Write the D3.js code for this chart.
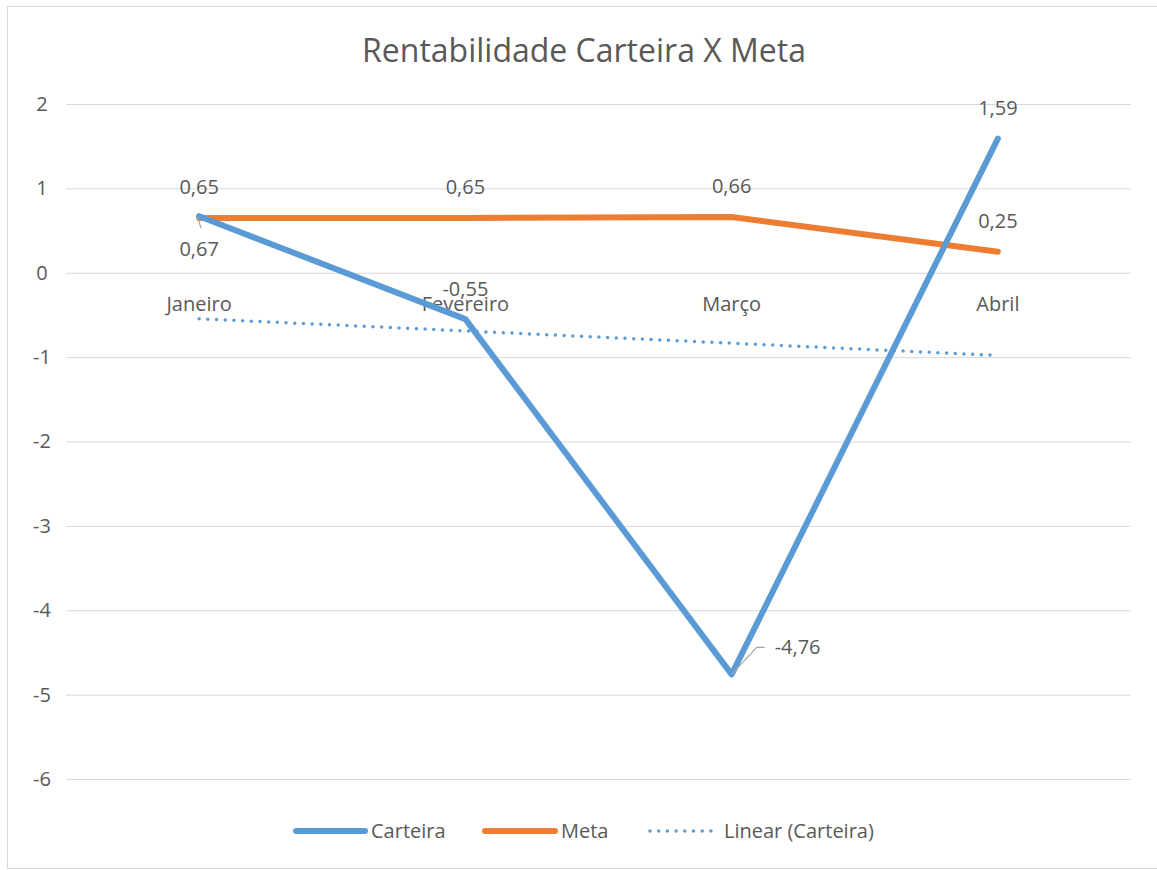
<!DOCTYPE html>
<html>
<head>
<meta charset="utf-8">
<script src="https://cdn.jsdelivr.net/npm/d3@7"></script>
<style>
  body { margin: 0; background: #fff; }
  text { font-family: "Open Sans", "Lato", sans-serif; fill: #595959; }
</style>
</head>
<body>
<div id="chart"></div>
<script>
// data
const months = ["Janeiro", "Fevereiro", "Março", "Abril"];
const carteira = [0.67, -0.55, -4.76, 1.59];
const meta = [0.65, 0.65, 0.66, 0.25];
const yTicks = [2, 1, 0, -1, -2, -3, -4, -5, -6];

const w = 1157;
const h = 870;
const fs = "20px";
const fmt = (v) => String(v.toFixed(2)).replace(".", ",");

// linear trend of Carteira (least squares, like Excel's "Linear" trendline)
const xs = carteira.map((d, i) => i + 1);
const mx = d3.mean(xs), my = d3.mean(carteira);
const slope = d3.sum(xs, (x, i) => (x - mx) * (carteira[i] - my)) / d3.sum(xs, (x) => (x - mx) ** 2);
const trend = xs.map((x) => my + slope * (x - mx));

const svg = d3.select("#chart").append("svg")
      .attr("width", w)
      .attr("height", h);

// outer frame
svg.append("rect")
      .attr("x", 7.5).attr("y", 6.5)
      .attr("width", 1160).attr("height", 862)
      .attr("fill", "#fff")
      .attr("stroke", "#d9d9d9")
      .attr("stroke-width", 1);

const x = d3.scaleBand().domain(months).range([66, 1131]);
const y = d3.scaleLinear().domain([-6, 2]).range([779, 104]);
const cx = (m) => x(m) + x.bandwidth() / 2;

//title
svg.append("text")
      .attr("x", 584).attr("y", 62)
      .attr("text-anchor", "middle")
      .style("font-size", "32px")
      .text("Rentabilidade Carteira X Meta");

//gridlines + y axis
const yAxis = svg.append("g")
      .attr("transform", "translate(66,0)")
      .call(d3.axisLeft(y).tickValues(yTicks).tickSize(-(1131 - 66)).tickPadding(18).tickFormat((d) => d));
yAxis.select(".domain").remove();
yAxis.selectAll("line").attr("stroke", "#d9d9d9").attr("stroke-width", 1);
yAxis.selectAll("text")
      .attr("fill", "#595959")
      .style("font-size", fs)
      .attr("text-anchor", "middle")
      .attr("x", -24);

//category labels sit just under the zero line
svg.selectAll(".xlab")
      .data(months)
      .enter()
      .append("text")
      .attr("class", "xlab")
      .attr("x", (d) => cx(d))
      .attr("y", y(0) + 38)
      .attr("text-anchor", "middle")
      .style("font-size", fs)
      .text((d) => d);

const line = d3.line()
      .x((d, i) => cx(months[i]))
      .y((d) => y(d));

//trendline
svg.append("path")
      .datum(trend)
      .attr("d", line)
      .attr("fill", "none")
      .attr("stroke", "#5b9bd5")
      .attr("stroke-width", 3.5)
      .attr("stroke-linecap", "round")
      .attr("stroke-dasharray", "0 8.7");

svg.append("path")
      .datum(meta)
      .attr("d", line)
      .attr("fill", "none")
      .attr("stroke", "#ed7d31")
      .attr("stroke-width", 6)
      .attr("stroke-linecap", "round")
      .attr("stroke-linejoin", "round");

svg.append("path")
      .datum(carteira)
      .attr("d", line)
      .attr("fill", "none")
      .attr("stroke", "#5b9bd5")
      .attr("stroke-width", 6)
      .attr("stroke-linecap", "round")
      .attr("stroke-linejoin", "round");

//data labels (offsets follow where Excel put them)
const metaOffsets = [[0, -24], [0, -24], [0, -24], [0, -24]];
const cartOffsets = [[0, 40], [0, -23], null, [0, -24]];

svg.selectAll(".metaLab")
      .data(meta)
      .enter()
      .append("text")
      .attr("class", "metaLab")
      .attr("x", (d, i) => cx(months[i]) + metaOffsets[i][0])
      .attr("y", (d, i) => y(d) + metaOffsets[i][1])
      .attr("text-anchor", "middle")
      .style("font-size", fs)
      .text((d) => fmt(d));

const cartLabels = carteira.map((v, i) => ({ v, i })).filter((d) => cartOffsets[d.i]);
svg.selectAll(".cartLab")
      .data(cartLabels)
      .enter()
      .append("text")
      .attr("class", "cartLab")
      .attr("x", (d) => cx(months[d.i]) + cartOffsets[d.i][0])
      .attr("y", (d) => y(d.v) + cartOffsets[d.i][1])
      .attr("text-anchor", "middle")
      .style("font-size", fs)
      .text((d) => fmt(d.v));

//label pulled off the point, with leader line
const mX = cx(months[2]), mY = y(carteira[2]);
svg.append("path")
      .attr("d", `M${mX},${mY} L${mX + 25},${mY - 27} L${mX + 33},${mY - 27}`)
      .attr("fill", "none")
      .attr("stroke", "#a6a6a6")
      .attr("stroke-width", 1.2);
svg.append("text")
      .attr("x", mX + 43).attr("y", mY - 20)
      .style("font-size", fs)
      .text(fmt(carteira[2]));

const jX = cx(months[0]), jY = y(carteira[0]);
svg.append("path")
      .attr("d", `M${jX - 2},${jY} L${jX + 2},${jY + 12}`)
      .attr("fill", "none")
      .attr("stroke", "#a6a6a6")
      .attr("stroke-width", 1.2);

//legend
const legend = [
      { name: "Carteira", color: "#5b9bd5", dash: null, width: 6, x1: 296, x2: 365, tx: 371 },
      { name: "Meta", color: "#ed7d31", dash: null, width: 6, x1: 485, x2: 555, tx: 561 },
      { name: "Linear (Carteira)", color: "#5b9bd5", dash: "0 8.7", width: 3.5, x1: 650, x2: 712, tx: 724 }
];
const lg = svg.selectAll(".legend")
      .data(legend)
      .enter()
      .append("g")
      .attr("class", "legend");
lg.append("line")
      .attr("x1", (d) => d.x1).attr("x2", (d) => d.x2)
      .attr("y1", 831).attr("y2", 831)
      .attr("stroke", (d) => d.color)
      .attr("stroke-width", (d) => d.width)
      .attr("stroke-linecap", "round")
      .attr("stroke-dasharray", (d) => d.dash);
lg.append("text")
      .attr("x", (d) => d.tx)
      .attr("y", 838)
      .style("font-size", fs)
      .text((d) => d.name);
</script>
</body>
</html>
